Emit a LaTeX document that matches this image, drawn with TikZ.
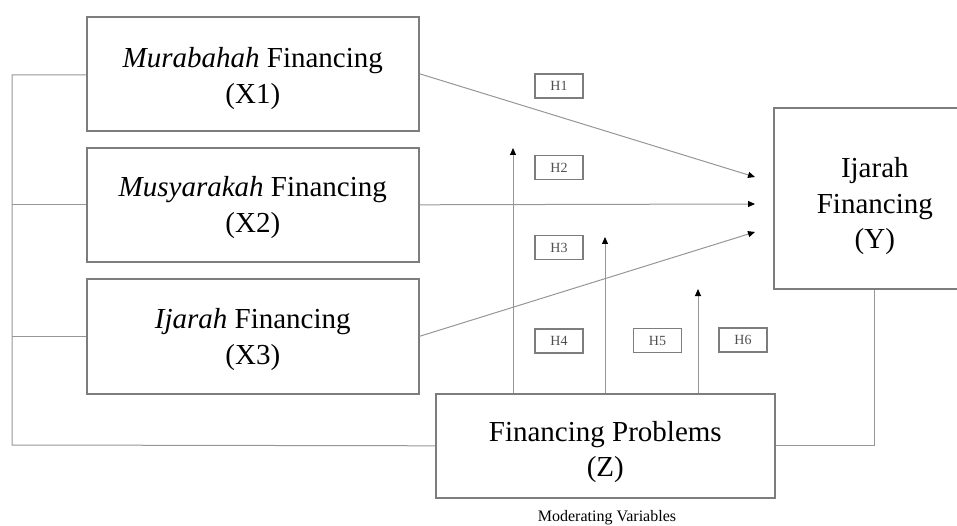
\documentclass[tikz,border=0pt]{standalone}
\usepackage{fontspec}
\setmainfont{Liberation Serif}
\usetikzlibrary{arrows.meta}
\definecolor{boxgray}{RGB}{125,125,125}
\definecolor{linegray}{RGB}{150,150,150}
\definecolor{hgray}{RGB}{80,80,80}
\newcommand{\topgap}[1]{\rule{0pt}{#1}}
\begin{document}
\begin{tikzpicture}[x=1pt,y=-1pt,
  var/.style={draw=boxgray, line width=1.6pt, align=center, inner sep=0pt,
    font=\fontsize{29}{35.5}\selectfont, anchor=north west},
  hyp/.style={draw=boxgray, line width=1.2pt, minimum width=48pt, minimum height=24pt,
    inner sep=0pt, font=\fontsize{14}{16}\selectfont, text=hgray},
  conn/.style={draw=linegray, line width=1pt},
  arr/.style={conn, -{Triangle[length=7pt,width=6pt,color=black]}}]
\useasboundingbox (0,0) rectangle (957,526);

% variable boxes
\node[var, minimum width=332pt, minimum height=114pt] (x1) at (86,16)
  {\topgap{30pt}\textit{Murabahah} Financing\\(X1)};
\node[var, minimum width=332pt, minimum height=114pt] (x2) at (86,147)
  {\topgap{26pt}\textit{Musyarakah} Financing\\(X2)};
\node[var, minimum width=332pt, minimum height=115pt] (x3) at (86,278)
  {\topgap{27pt}\textit{Ijarah} Financing\\(X3)};
\node[var, minimum width=202pt, minimum height=181pt] (y) at (773,107)
  {\topgap{36pt}Ijarah\\Financing\\(Y)};
\node[var, minimum width=339pt, minimum height=104pt] (z) at (435,393)
  {\topgap{33pt}Financing Problems\\(Z)};
\node[font=\fontsize{16}{18}\selectfont, anchor=base] (mod) at (607,521) {Moderating Variables};

% hypothesis labels
\node[hyp] (h1) at (559,86) {H1};
\node[hyp] (h2) at (559,167.5) {H2};
\node[hyp] (h3) at (559,247.5) {H3};
\node[hyp] (h4) at (559,341) {H4};
\node[hyp] (h5) at (657.5,340.5) {H5};
\node[hyp] (h6) at (743,340) {H6};

% coordinates
\coordinate (bt) at (12,75);
\coordinate (bb) at (12,445);
\coordinate (a1) at (755,177);
\coordinate (a2) at (755,204);
\coordinate (a3) at (755,232);
\coordinate (m1) at (513,148);
\coordinate (m2) at (605,237);
\coordinate (m3) at (698,289);

% left bus
\draw[conn] (x1.west |- bt) -- (bt) -- (bb) -- (z.west);
\draw[conn] (x2.west) -- (x2.west -| bt);
\draw[conn] (x3.west) -- (x3.west -| bt);
% right connector
\draw[conn] (z.east) -| (y.south);

% direct effects
\draw[arr] (x1.east) -- (a1);
\draw[arr] (x2.east) -- (a2);
\draw[arr] (x3.east) -- (a3);

% moderating arrows
\draw[arr] (z.north -| m1) -- (m1);
\draw[arr] (z.north -| m2) -- (m2);
\draw[arr] (z.north -| m3) -- (m3);
\end{tikzpicture}
\end{document}
